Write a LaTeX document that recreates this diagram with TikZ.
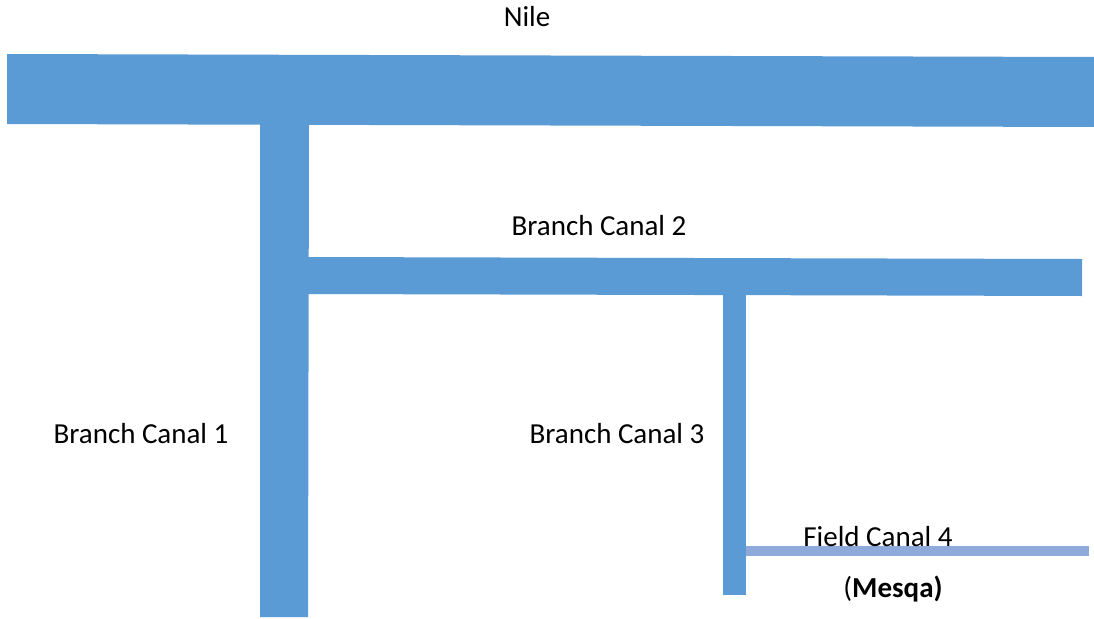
\documentclass[tikz,border=0pt]{standalone}
\usepackage{fontspec}
\setmainfont{Carlito}
\definecolor{canal}{HTML}{5B9BD5}
\definecolor{field}{HTML}{8EAADB}
\begin{document}
\begin{tikzpicture}[x=1pt,y=-1pt,
  lbl/.style={inner sep=0pt,anchor=base,font=\fontsize{29}{35}\selectfont}]
\useasboundingbox (0,0) rectangle (1094,618);
% Nile
\fill[canal] (7,54) -- (1094,57) -- (1094,127) -- (7,124) -- cycle;
% Branch canal 1
\fill[canal] (260,123) -- (309,123) -- (308,617) -- (260,617) -- cycle;
% Branch canal 2
\fill[canal] (308,257) -- (1082,259) -- (1082,296) -- (308,294) -- cycle;
% Branch canal 3
\fill[canal] (723,293) -- (746,293) -- (746,595) -- (723,595) -- cycle;
% Field canal 4
\fill[field] (746,546) rectangle (1089,556);
% labels
\node[lbl] (nile) at (527,27) {Nile};
\node[lbl] (bc2) at (599,235) {Branch Canal 2};
\node[lbl] (bc1) at (141,443) {Branch Canal 1};
\node[lbl] (bc3) at (617,443) {Branch Canal 3};
\node[lbl] (fc4) at (878,546) {Field Canal 4};
\node[lbl] (mesqa) at (893,597) {(\textbf{Mesqa)}};
\end{tikzpicture}
\end{document}
